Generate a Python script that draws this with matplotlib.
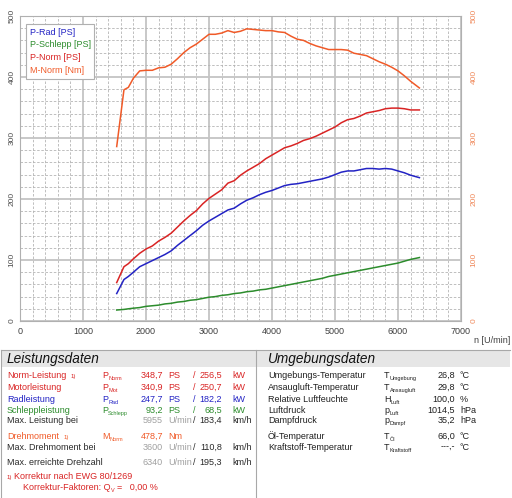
import matplotlib
matplotlib.use("Agg")
import matplotlib.pyplot as plt
from matplotlib.patches import Rectangle
from matplotlib.ticker import MultipleLocator

plt.rcParams['font.family'] = ['Liberation Sans', 'DejaVu Sans']

rpm = [1535, 1650, 1720, 1800, 1900, 2000, 2100, 2200, 2300, 2400, 2500, 2600, 2700,
       2800, 2900, 3000, 3100, 3200, 3300, 3400, 3500, 3600, 3700, 3800, 3900, 4000,
       4100, 4200, 4300, 4400, 4500, 4600, 4700, 4800, 4900, 5000, 5100, 5200, 5300,
       5400, 5500, 5600, 5700, 5800, 5900, 6000, 6100, 6200, 6340]
m_norm = [286, 379, 383, 398, 410, 411, 411, 415, 416, 421, 430, 440, 448, 454, 462,
          470, 470, 472, 476, 473, 475, 479, 478, 477, 476, 476, 474, 473, 467, 462,
          460, 455, 451, 448, 445, 445, 445, 444, 439, 437, 435, 430, 425, 421, 416,
          410, 402, 393, 382]
p_norm = [63, 89, 94, 102, 111, 118, 123, 131, 137, 144, 154, 164, 173, 181, 192, 201,
          208, 215, 226, 230, 239, 246, 252, 258, 266, 272, 278, 284, 287, 291, 296,
          299, 303, 308, 313, 318, 325, 330, 332, 336, 341, 343, 345, 348, 349, 349,
          348, 346, 346]
p_rad = [45, 68, 73, 80, 89, 94, 99, 104, 109, 115, 124, 132, 140, 148, 157, 164, 170,
         176, 182, 185, 192, 198, 202, 207, 211, 214, 218, 222, 224, 225, 227, 229,
         231, 233, 236, 240, 244, 246, 246, 248, 250, 250, 249, 250, 249, 246, 243,
         239, 235]
p_schlepp = [18, 19, 20, 21, 22, 24, 25, 26, 28, 29, 31, 32, 34, 35, 37, 39, 40, 42, 43,
             45, 46, 48, 49, 51, 52, 54, 56, 58, 60, 62, 64, 66, 68, 70, 73, 75, 77, 79,
             81, 83, 85, 87, 89, 91, 93, 95, 98, 101, 104]

legend_labels = ["P-Rad [PS]", "P-Schlepp [PS]", "P-Norm [PS]", "M-Norm [Nm]"]

BLUE = "#2323c4"
GREEN = "#2c8c2c"
RED = "#d92424"
ORANGE = "#f05a28"
DARK = "#2a2a2a"
GRAY = "#a0a0a0"

fig = plt.figure(figsize=(5.12, 4.98), dpi=100)

# ---- Diagramm
ax = fig.add_axes([20/512, 1-321/498, 441/512, 305/498])
ax.set_xlim(0, 7000)
ax.set_ylim(0, 500)
ax.xaxis.set_major_locator(MultipleLocator(1000))
ax.xaxis.set_minor_locator(MultipleLocator(200))
ax.yaxis.set_major_locator(MultipleLocator(100))
ax.yaxis.set_minor_locator(MultipleLocator(20))
ax.grid(which='major', color='#c4c4c4', linewidth=1.3, linestyle='-')
ax.grid(which='minor', color='#b4b4b4', linewidth=0.6, linestyle=(0, (3, 2)))
ax.set_axisbelow(True)
for s in ax.spines.values():
    s.set_color('#b0b0b0')
    s.set_linewidth(0.8)
ax.tick_params(which='both', length=0)
ax.tick_params(axis='x', labelsize=6.5, labelcolor='#404040', pad=4)
ax.tick_params(axis='y', labelsize=6, labelcolor='#505050', labelrotation=90, pad=3)
for lbl in ax.get_yticklabels():
    lbl.set_va('center')

l1, = ax.plot(rpm, p_rad, color=BLUE, lw=1.1)
l2, = ax.plot(rpm, p_schlepp, color=GREEN, lw=1.1)
l3, = ax.plot(rpm, p_norm, color=RED, lw=1.1)

ax2 = ax.twinx()
ax2.set_ylim(0, 500)
ax2.yaxis.set_major_locator(MultipleLocator(100))
ax2.tick_params(which='both', length=0)
ax2.tick_params(axis='y', labelsize=6, labelcolor='#f08a5c', labelrotation=90, pad=7)
for lbl in ax2.get_yticklabels():
    lbl.set_va('center')
for s in ax2.spines.values():
    s.set_visible(False)
l4, = ax2.plot(rpm, m_norm, color=ORANGE, lw=1.1)

leg = ax2.legend([l1, l2, l3, l4], legend_labels, loc='upper left',
                 bbox_to_anchor=(0.0136, 0.974), borderaxespad=0, fontsize=6.5,
                 handlelength=0, handletextpad=0, labelspacing=0.42, borderpad=0.4,
                 fancybox=False, framealpha=1, edgecolor='#b0b0b0')
leg.get_frame().set_linewidth(0.8)
for h in leg.legend_handles:
    h.set_visible(False)
for t, c in zip(leg.get_texts(), [BLUE, GREEN, RED, ORANGE]):
    t.set_color(c)

fig.text(474/512, 1-340/498, "n [U/min]", fontsize=6.5, color='#404040',
         ha='left', va='center')

# ---- Tabellen
tab = fig.add_axes([0, 0, 1, 1], zorder=-1)
tab.set_xlim(0, 512)
tab.set_ylim(498, 0)
tab.axis('off')
tab.add_patch(Rectangle((1, 350), 509, 16.5, facecolor='#e6e6e6', edgecolor='none'))
tab.plot([1, 510], [350, 350], color='#a8a8a8', lw=0.8)
tab.plot([1, 1], [350, 497], color='#a8a8a8', lw=0.8)
tab.plot([256, 256], [350, 497], color='#a8a8a8', lw=0.8)
tab.text(7, 359, "Leistungsdaten", fontsize=9.8, style='italic', color='#111111',
         va='center', ha='left')
tab.text(268, 359, "Umgebungsdaten", fontsize=9.8, style='italic', color='#111111',
         va='center', ha='left')

FS = 6.5


def after(t, y, txt, color, size, dx, dy):
    # kleiner Text direkt rechts neben t, y bezogen auf die Grundlinie
    return tab.annotate(txt, xy=(1, y), xycoords=(t, 'data'), xytext=(dx, dy),
                        textcoords='offset points', fontsize=size, color=color,
                        va='baseline', ha='left')


def sym(x, y, base, sub, color):
    t = tab.text(x, y, base, fontsize=FS, color=color, va='baseline')
    return after(t, y, sub, color, 4.0, 0.2, -1.5)


def label(x, y, txt, color, note=False):
    t = tab.text(x, y, txt, fontsize=FS, color=color, va='baseline')
    if note:
        after(t, y, "1)", color, 4.3, 3, 0.3)


power_rows = [
    ("Norm-Leistung", True, "Norm", "348,7", "256,5", RED),
    ("Motorleistung", False, "Mot", "340,9", "250,7", RED),
    ("Radleistung", False, "Rad", "247,7", "182,2", BLUE),
    ("Schleppleistung", False, "Schlepp", "93,2", "68,5", GREEN),
]
row_y = [378, 390, 402, 413]
for (name, note, sub, ps, kw, c), y in zip(power_rows, row_y):
    label(7, y, name, c, note)
    sym(102, y, "P", sub, c)
    tab.text(163, y, ps, fontsize=FS, color=c, ha='right', va='baseline')
    tab.text(168, y, "PS", fontsize=FS, color=c, va='baseline')
    tab.text(193, y, "/", fontsize=FS, color=c, va='baseline')
    tab.text(222, y, kw, fontsize=FS, color=c, ha='right', va='baseline')
    tab.text(232, y, "kW", fontsize=FS, color=c, va='baseline')

speed_rows = [
    ("Max. Leistung bei", "5955", "183,4", 423),
    ("Max. Drehmoment bei", "3600", "110,8", 450),
    ("Max. erreichte Drehzahl", "6340", "195,3", 465),
]
for name, n, v, y in speed_rows:
    tab.text(7, y, name, fontsize=FS, color=DARK, va='baseline')
    tab.text(163, y, n, fontsize=FS, color=GRAY, ha='right', va='baseline')
    tab.text(168, y, "U/min", fontsize=FS, color=GRAY, va='baseline')
    tab.text(193, y, "/", fontsize=FS, color=DARK, va='baseline')
    tab.text(222, y, v, fontsize=FS, color=DARK, ha='right', va='baseline')
    tab.text(232, y, "km/h", fontsize=FS, color=DARK, va='baseline')

label(7, 439, "Drehmoment", ORANGE, True)
sym(102, 439, "M", "Norm", ORANGE)
tab.text(163, 439, "478,7", fontsize=FS, color=ORANGE, ha='right', va='baseline')
tab.text(168, 439, "Nm", fontsize=FS, color=ORANGE, va='baseline')

tab.text(7, 478.5, "1)", fontsize=4.3, color=RED, va='baseline')
tab.text(14, 479, "Korrektur nach EWG 80/1269", fontsize=FS, color=RED, va='baseline')
t = tab.text(23, 490, "Korrektur-Faktoren: Q", fontsize=FS, color=RED, va='baseline')
qv = after(t, 490, "V", RED, 4.0, 0.2, -1.5)
after(qv, 490, "=   0,00 %", RED, FS, 2, 0)

env_rows = [
    ("Umgebungs-Temperatur", "T", "Umgebung", "26,8", "°C", 378),
    ("Ansaugluft-Temperatur", "T", "Ansaugluft", "29,8", "°C", 390),
    ("Relative Luftfeuchte", "H", "Luft", "100,0", "%", 402),
    ("Luftdruck", "p", "Luft", "1014,5", "hPa", 413),
    ("Dampfdruck", "p", "Dampf", "35,2", "hPa", 423),
    ("Öl-Temperatur", "T", "Öl", "66,0", "°C", 439),
    ("Kraftstoff-Temperatur", "T", "Kraftstoff", "---,-", "°C", 450),
]
for name, b, sub, v, unit, y in env_rows:
    tab.text(268, y, name, fontsize=FS, color='#202020', va='baseline')
    sym(384, y, b, sub, '#202020')
    tab.text(455, y, v, fontsize=FS, color='#202020', ha='right', va='baseline')
    tab.text(460, y, unit, fontsize=FS, color='#202020', va='baseline')

fig.savefig("out.png", dpi=100)
